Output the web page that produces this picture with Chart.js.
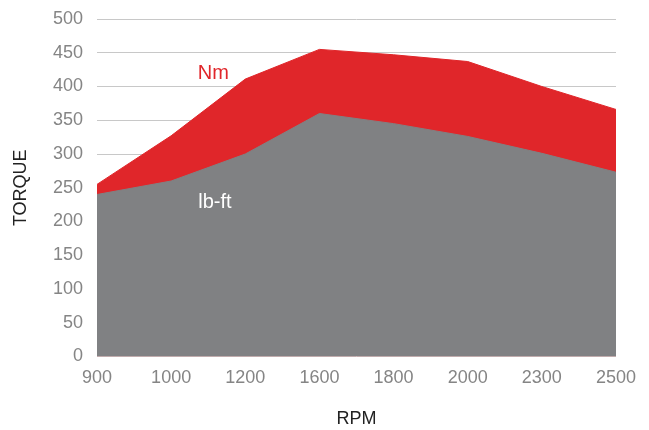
<!DOCTYPE html>
<html>
<head>
<meta charset="utf-8">
<script src="https://cdn.jsdelivr.net/npm/chart.js@4"></script>
<style>
  body { margin: 0; background: #fff; }
</style>
</head>
<body>
<canvas id="torqueChart" width="649" height="430"></canvas>
<script>
var rpm = ['900', '1000', '1200', '1600', '1800', '2000', '2300', '2500'];
var nm = [255, 327, 411, 455, 447, 437, 400, 366];
var lbft = [240, 260, 300, 360, 345, 326, 301, 273];
var seriesLabels = [
  { text: 'Nm', at: 1.57, value: 419, color: '#e0262a' },
  { text: 'lb-ft', at: 1.59, value: 228, color: '#ffffff' }
];

var fontFamily = '"Liberation Sans", Arial, sans-serif';

var areaLabels = {
  id: 'areaLabels',
  afterDatasetsDraw: function(chart) {
    var ctx = chart.ctx;
    ctx.save();
    ctx.font = '20px ' + fontFamily;
    ctx.textAlign = 'center';
    ctx.textBaseline = 'middle';
    seriesLabels.forEach(function(l) {
      ctx.fillStyle = l.color;
      ctx.fillText(l.text, chart.scales.x.getPixelForValue(l.at), chart.scales.y.getPixelForValue(l.value));
    });
    ctx.restore();
  }
};

var ctx = document.getElementById('torqueChart').getContext('2d');
var myChart = new Chart(ctx, {
  type: 'line',
  data: {
    labels: rpm,
    datasets: [{
      label: 'lb-ft',
      data: lbft,
      borderColor: '#808183',
      backgroundColor: '#808183',
      borderWidth: 1,
      fill: 'origin',
      tension: 0,
      pointRadius: 0
    }, {
      label: 'Nm',
      data: nm,
      borderColor: '#e0262a',
      backgroundColor: '#e0262a',
      borderWidth: 1,
      fill: 'origin',
      tension: 0,
      pointRadius: 0
    }]
  },
  options: {
    responsive: false,
    animation: false,
    layout: { padding: { top: 19, right: 33, bottom: 0, left: 0 } },
    plugins: {
      legend: { display: false },
      tooltip: { enabled: false }
    },
    scales: {
      x: {
        grid: { display: false },
        border: { display: false },
        ticks: {
          color: '#858585',
          padding: 3,
          maxRotation: 0,
          autoSkip: false,
          font: { family: fontFamily, size: 18 }
        },
        title: {
          display: true,
          text: 'RPM',
          color: '#222',
          padding: { top: 0, bottom: 0 },
          font: { family: fontFamily, size: 18 }
        },
        afterFit: function(scale) {
          scale.height = 73.5;
          scale.paddingLeft = 0;
          scale.paddingRight = 0;
        }
      },
      y: {
        min: 0,
        max: 500,
        grid: { color: '#c8c8c8', lineWidth: 1, drawTicks: false },
        border: { display: false },
        ticks: {
          stepSize: 50,
          color: '#858585',
          padding: 14,
          font: { family: fontFamily, size: 18 }
        },
        title: {
          display: true,
          text: 'TORQUE',
          color: '#222',
          padding: { top: 10, bottom: 0 },
          font: { family: fontFamily, size: 18 }
        },
        afterFit: function(scale) {
          scale.width = 97;
          scale.paddingTop = 0;
          scale.paddingBottom = 0;
        }
      }
    }
  },
  plugins: [areaLabels]
});
</script>
</body>
</html>
